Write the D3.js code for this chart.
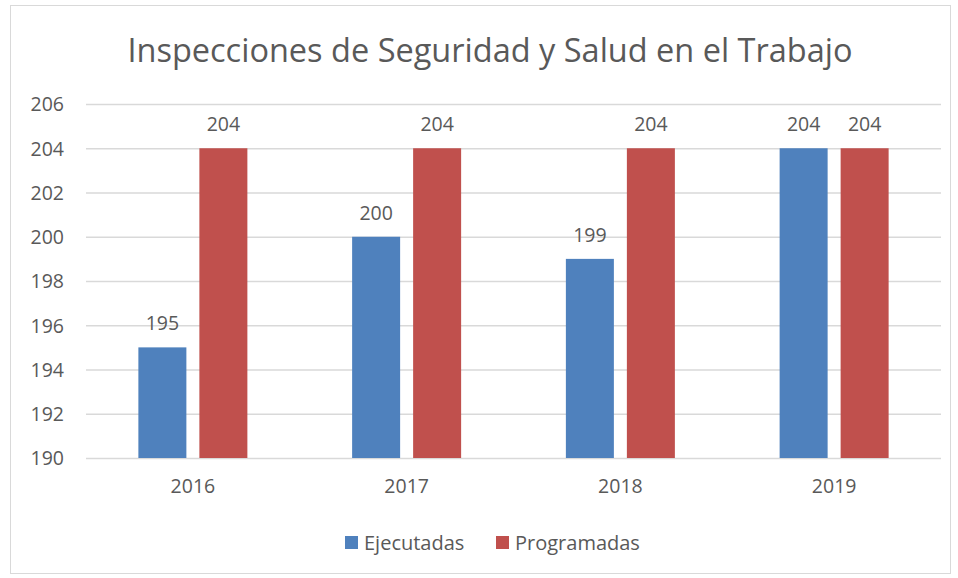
<!DOCTYPE html>
<html><head><meta charset="utf-8">
<script src="https://cdn.jsdelivr.net/npm/d3@7"></script>
<style>body{margin:0;background:#fff}svg{display:block}text{font-family:"Open Sans",Calibri,sans-serif;fill:#595959}</style>
</head><body>
<script>
const categories = ["2016","2017","2018","2019"];
const seriesNames = ["Ejecutadas","Programadas"];
const ejecutadas = [195,200,199,204];
const programadas = [204,204,204,204];
const yTicks = [190,192,194,196,198,200,202,204,206];
const colors = ["#4F81BD","#C0504D"];
const title = "Inspecciones de Seguridad y Salud en el Trabajo";

const W=958,H=578;
const svg=d3.select("body").append("svg").attr("width",W).attr("height",H);
svg.append("rect").attr("x",10.5).attr("y",5.5).attr("width",940).attr("height",568).attr("fill","#fff").attr("stroke","#d9d9d9");

const m={l:86,r:941,t:104,b:458};
const x=d3.scaleBand().domain(categories).range([m.l,m.r]);
const y=d3.scaleLinear().domain([190,206]).range([m.b,m.t]);
const x1=d3.scaleBand().domain(seriesNames).range([0,109]).paddingInner(13/61);

svg.append("text").attr("x",490).attr("y",62).attr("text-anchor","middle").attr("font-size",32.5).text(title);

const yAxis=d3.axisLeft(y).tickValues(yTicks).tickSize(-(m.r-m.l)).tickFormat(d3.format("d"));
const gy=svg.append("g").attr("transform",`translate(${m.l},0)`).call(yAxis);
gy.select(".domain").remove();
gy.selectAll(".tick line").attr("stroke","#d9d9d9").attr("stroke-width",1.3);
gy.selectAll(".tick text").attr("x",-22).attr("font-size",19.5).attr("dy","0.35em").style("font-family","'Open Sans',sans-serif").attr("fill","#595959");

const xAxis=d3.axisBottom(x).tickSize(0);
const gx=svg.append("g").attr("transform",`translate(0,${m.b})`).call(xAxis);
gx.select(".domain").remove();
gx.selectAll(".tick text").attr("font-size",19.5).attr("dy","1.3em").attr("y",10).style("font-family","'Open Sans',sans-serif").attr("fill","#595959");

const data=categories.map((c,i)=>({cat:c,vals:[{s:seriesNames[0],v:ejecutadas[i]},{s:seriesNames[1],v:programadas[i]}]}));
const off=(x.bandwidth()-109)/2;
const g=svg.selectAll(".grp").data(data).join("g").attr("transform",d=>`translate(${x(d.cat)+off},0)`);
g.selectAll("rect").data(d=>d.vals).join("rect")
 .attr("x",d=>x1(d.s)).attr("width",x1.bandwidth())
 .attr("y",d=>y(d.v)).attr("height",d=>y(190)-y(d.v))
 .attr("fill",(d,i)=>colors[i]);
g.selectAll("text.lbl").data(d=>d.vals).join("text").attr("class","lbl")
 .attr("x",d=>x1(d.s)+x1.bandwidth()/2).attr("y",d=>y(d.v)-17)
 .attr("text-anchor","middle").attr("font-size",19.5).text(d=>d.v);

const leg=svg.append("g");
const items=[{n:seriesNames[0],c:colors[0],x:345},{n:seriesNames[1],c:colors[1],x:496}];
items.forEach(it=>{
  leg.append("rect").attr("x",it.x).attr("y",536).attr("width",13).attr("height",13).attr("fill",it.c);
  leg.append("text").attr("x",it.x+19).attr("y",550).attr("font-size",20).text(it.n);
});
</script>
</body></html>
